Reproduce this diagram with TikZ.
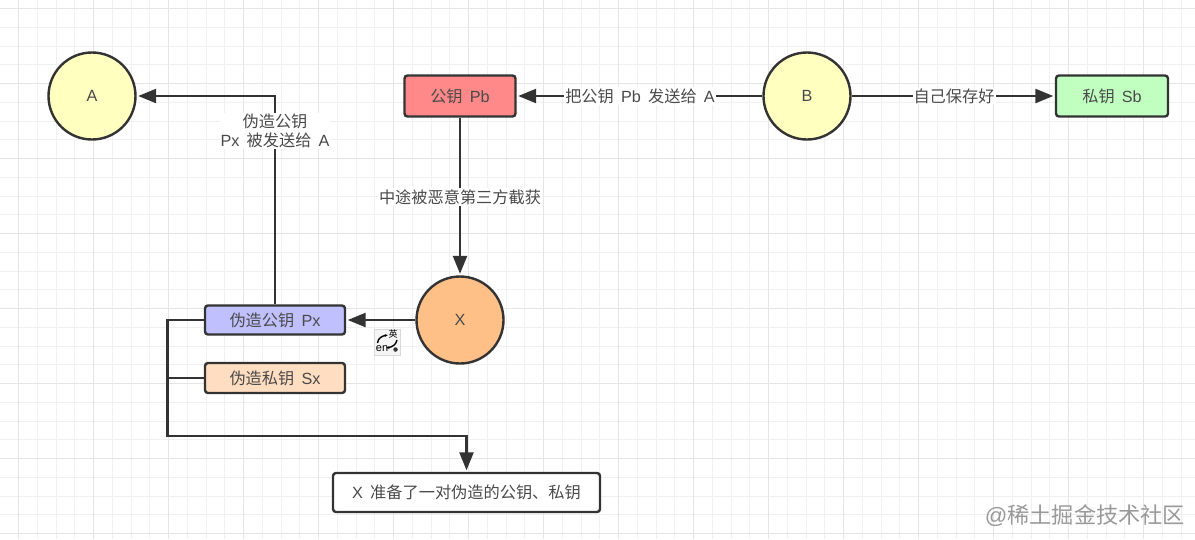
\documentclass[tikz,border=0pt]{standalone}
\usepackage{fontspec}
\setmainfont{Liberation Sans}
\newfontfamily\cjk{Noto Sans CJK SC}
\newcommand{\zh}[1]{{\cjk #1}}
\usetikzlibrary{arrows.meta,calc}
\definecolor{inkline}{HTML}{333333}
\definecolor{inktext}{HTML}{4A4A4A}
\tikzset{
  lbl/.style={font=\fontsize{16.2}{20}\selectfont,text=inktext,align=center},
  person/.style={circle,draw=inkline,line width=2.4pt,minimum size=87pt,inner sep=0pt,lbl},
  keybox/.style={rectangle,rounded corners=3pt,draw=inkline,line width=2.4pt,inner sep=0pt,lbl},
  conn/.style={draw=inkline,line width=2.4pt},
  arr/.style={conn,-{Triangle[length=18pt,width=14pt]},shorten >=1.5pt},
  edgelbl/.style={lbl,fill=white,inner sep=1pt},
}
\begin{document}
\begin{tikzpicture}[x=1pt,y=-1pt]
\useasboundingbox (0,0) rectangle (1195,539);
\fill[white] (0,0) rectangle (1195,539);
% grid
\foreach \i in {0,...,63} \draw[black!6,line width=0.8pt] (18.5+18.75*\i-18.75,0) -- ++(0,539);
\foreach \i in {0,...,29} \draw[black!6,line width=0.8pt] (0,8.5+18.75*\i) -- ++(1195,0);
\foreach \i in {0,...,15} \draw[black!10,line width=1.2pt] (18.5+75*\i,0) -- ++(0,539);
\foreach \i in {0,...,7} \draw[black!10,line width=1.2pt] (0,8.5+75*\i) -- ++(1195,0);
% nodes
\node[person,fill={rgb,255:red,255;green,255;blue,192}] (a) at (92,96) {A};
\node[person,fill={rgb,255:red,255;green,255;blue,192}] (b) at (807,96) {B};
\node[person,fill={rgb,255:red,255;green,192;blue,136}] (x) at (460,320) {X};
\node[keybox,fill={rgb,255:red,255;green,136;blue,136},minimum width=111pt,minimum height=41pt] (pb) at (460,96) {\zh{公钥}\, Pb};
\node[keybox,fill={rgb,255:red,192;green,255;blue,192},minimum width=112pt,minimum height=41pt] (sb) at (1112,96) {\zh{私钥}\, Sb};
\node[keybox,fill={rgb,255:red,192;green,192;blue,255},minimum width=140pt,minimum height=29pt] (px) at (275,320) {\zh{伪造公钥}\, Px};
\node[keybox,fill={rgb,255:red,255;green,221;blue,192},minimum width=140pt,minimum height=30pt] (sx) at (275,378) {\zh{伪造私钥}\, Sx};
\node[keybox,fill=white,minimum width=267pt,minimum height=39pt] (note) at (466.5,492.5) {X\, \zh{准备了一对伪造的公钥、私钥}};
% connectors
\coordinate (t1) at (px.north |- a.east);
\draw[arr] (px.north) -- (t1) -- (a.east);
\node[edgelbl] (l1) at (275,131) {\zh{伪造公钥}\\[-1pt]Px\, \zh{被发送给}\, A};
\draw[arr] (b.west) -- (pb.east);
\node[edgelbl] (l2) at (640,96) {\zh{把公钥}\, Pb\, \zh{发送给}\, A};
\draw[arr] (b.east) -- (sb.west);
\node[edgelbl] (l3) at (954,96) {\zh{自己保存好}};
\draw[arr] (pb.south) -- (x.north);
\node[edgelbl] (l4) at (460,197) {\zh{中途被恶意第三方截获}};
\draw[arr] (x.west) -- (px.east);
\coordinate (b1) at (167.5,320);
\coordinate (b2) at (167.5,436);
\coordinate (b3) at (note.north |- b2);
\draw[arr] (px.west) -- (b1) -- (b2) -- (b3) -- (note.north);
\coordinate (b4) at (167.5,378);
\draw[conn] (sx.west) -- (b4);
% IME icon
\node[draw=black!15,fill=black!4,minimum size=26pt,inner sep=0pt] (ime) at (387,342) {};
\node[font=\fontsize{9}{9}\selectfont,text=black,inner sep=0pt] (ime1) at (393,334) {\zh{英}};
\node[font=\fontsize{11}{11}\selectfont,text=black,inner sep=0pt] (ime2) at (382,349) {en};
\node[circle,fill=inkline,minimum size=4.5pt,inner sep=0pt] (ime3) at (395.5,349.5) {};
\coordinate (c1) at (377.5,343);
\coordinate (c2) at (388,335);
\coordinate (c3) at (397,340);
\coordinate (c4) at (386,348);
\draw[black,line width=1.4pt,-{Stealth[length=3.5pt]}] (c1) .. controls (378,338) and (382,336) .. (c2);
\draw[black,line width=1.4pt,-{Stealth[length=3.5pt]}] (c3) .. controls (396,345) and (392,347) .. (c4);
% watermark
\node[font=\fontsize{22.2}{24}\selectfont,text=black!40,inner sep=0pt] (wm) at (1085,516) {@\zh{稀土掘金技术社区}};
\end{tikzpicture}
\end{document}
